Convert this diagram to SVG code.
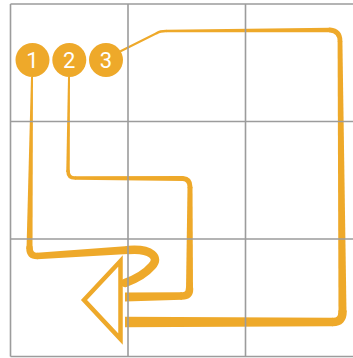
<svg xmlns="http://www.w3.org/2000/svg" width="353" height="358" viewBox="0 0 353 358">
<style>
.c{fill:none;stroke:#EEA92A;stroke-linecap:round;stroke-linejoin:round}
.p{fill:#EEA92A}
.g{stroke:#9c9c9c;stroke-width:1.6;fill:none}
.n{fill:#EEA92A}
.t{fill:#fff;font-family:Roboto,"Liberation Sans",sans-serif;font-size:22px;text-anchor:middle}
</style>
<rect width="353" height="358" fill="#fff"/>
<g id="connectors">
  <g id="line1">
    <polygon class="p" points="31,77 33,77 32.5,249 26.5,249"/>
    <path class="c" stroke-width="6.5" d="M29.5,248 Q29.5,256 37,256"/>
    <polygon class="p" points="37,252.75 128,246 128,254 37,259.25"/>
    <path class="c" stroke-width="8.5" d="M128,250 C152,248 160,258 152,266 C146,273 136,279 125,283"/>
  </g>
  <g id="line2">
    <polygon class="p" points="68,77 70,77 69.75,172 66.25,172"/>
    <path class="c" stroke-width="3.5" d="M68,171 Q68,178 75,178"/>
    <polygon class="p" points="75,176.25 183,176 183,181 75,179.75"/>
    <path class="c" stroke-width="5" d="M183,178.5 Q190,179 190,187"/>
    <polygon class="p" points="187.5,187 192.5,187 193,289 186,289"/>
    <path class="c" stroke-width="7.5" d="M189.5,289 Q189.5,296 182,296"/>
    <polygon class="p" points="182,292.25 125,292.5 125,301.5 182,299.75"/>
  </g>
  <g id="line3">
    <path class="c" stroke-width="2" d="M121,51 L157,33"/>
    <path class="c" stroke-width="2.5" d="M157,33 Q160,31 166,31"/>
    <polygon class="p" points="166,29.75 330,27.75 330,32.25 166,32.25"/>
    <path class="c" stroke-width="4.8" d="M330,30 Q340,31 340,41"/>
    <polygon class="p" points="337.6,41 342.4,41 346.5,312 338.5,312"/>
    <path class="c" stroke-width="8.5" d="M342.5,312 Q342.5,322 333,322"/>
    <polygon class="p" points="333,317.75 125,316.75 125,327.25 333,326.25"/>
  </g>
  <polygon id="arrowhead" points="120.5,261 84,300 120.5,339" fill="#fff" stroke="#EEA92A" stroke-width="4.5" stroke-linejoin="miter"/>
</g>
<g id="grid">
  <path class="g" d="M10.5,4 V356.5 M128,4 V356.5 M245.5,4 V356.5 M10.5,4 H353 M10.5,121.5 H353 M10.5,239 H353 M10.5,356.5 H353"/>
</g>
<g id="node1"><circle class="n" cx="32.5" cy="60" r="17"/><text class="t" x="32.5" y="68">1</text></g>
<g id="node2"><circle class="n" cx="69.3" cy="60" r="17"/><text class="t" x="69.3" y="68">2</text></g>
<g id="node3"><circle class="n" cx="106" cy="60" r="17"/><text class="t" x="106" y="68">3</text></g>
</svg>
